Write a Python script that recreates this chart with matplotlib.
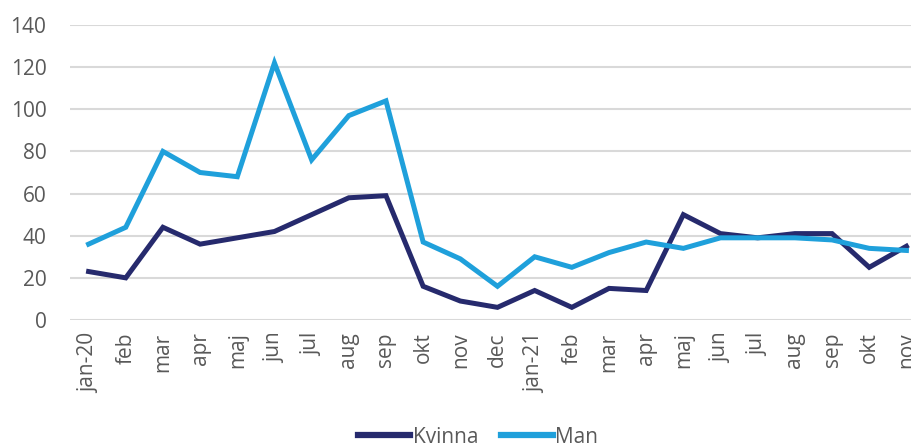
import matplotlib.pyplot as plt
import numpy as np

months = ['jan-20', 'feb', 'mar', 'apr', 'maj', 'jun', 'jul', 'aug', 'sep', 'okt', 'nov', 'dec',
          'jan-21', 'feb', 'mar', 'apr', 'maj', 'jun', 'jul', 'aug', 'sep', 'okt', 'nov']
kvinna = [23, 20, 44, 36, 39, 42, 50, 58, 59, 16, 9, 6, 14, 6, 15, 14, 50, 41, 39, 41, 41, 25, 35]
man = [36, 44, 80, 70, 68, 122, 76, 97, 104, 37, 29, 16, 30, 25, 32, 37, 34, 39, 39, 39, 38, 34, 33]

plt.rcParams['font.family'] = ['Open Sans', 'DejaVu Sans']

def main():
    fig = plt.figure(figsize=(9.11, 4.48), dpi=100)
    # the original is cropped on the right, so the axes run past the figure edge
    ax = fig.add_axes([70 / 911, 128 / 448, 855 / 911, 295 / 448])

    x = np.arange(len(months))
    ax.plot(x, kvinna, color='#262A6D', lw=3.6, label='Kvinna', solid_joinstyle='miter')
    ax.plot(x, man, color='#1FA0DB', lw=3.6, label='Man', solid_joinstyle='miter')

    ax.set_xlim(-0.5, len(months) - 0.5)
    ax.set_ylim(0, 140)
    ax.set_yticks(range(0, 141, 20))
    ax.set_xticks(x)
    ax.set_xticklabels(months, rotation=90)

    ax.grid(axis='y', color='#D9D9D9', lw=1.5)
    ax.set_axisbelow(True)
    for s in ax.spines.values():
        s.set_visible(False)
    ax.tick_params(length=0, labelsize=15, colors='#595959')
    ax.tick_params(axis='y', pad=17)
    ax.tick_params(axis='x', pad=9)

    fig.legend(loc='center', bbox_to_anchor=(0.525, 0.024), ncol=2, frameon=False,
               fontsize=15, handlelength=2.5, handletextpad=0.1, columnspacing=1.1,
               labelcolor='#595959', borderpad=0)
    for line in fig.legends[0].get_lines():
        line.set_linewidth(4.5)

    fig.savefig('out.png', dpi=100)

if __name__ == "__main__":
    main()
